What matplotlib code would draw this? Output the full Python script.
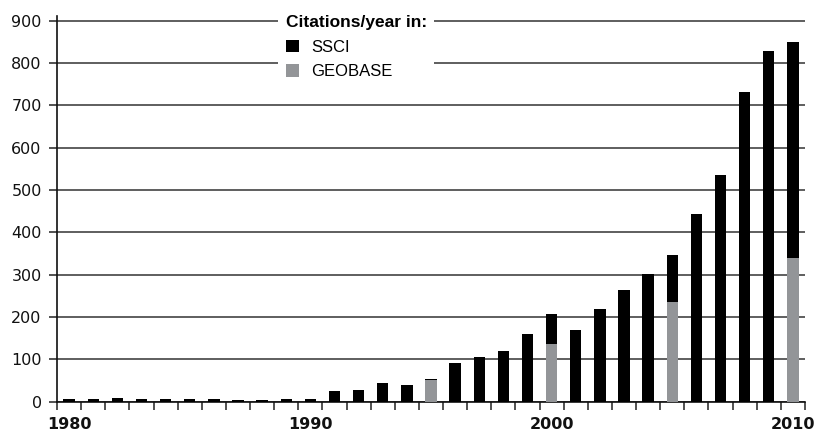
import matplotlib
matplotlib.use("Agg")
import matplotlib.pyplot as plt
import numpy as np

years = list(range(1980, 2011))
ssci = [6, 5, 8, 5, 5, 5, 5, 4, 4, 5, 5, 25, 28, 43, 40, 53, 92, 105, 120, 160,
        207, 170, 219, 264, 302, 345, 444, 535, 731, 829, 850]
geobase_years = [1995, 2000, 2005, 2010]
geobase = [51, 136, 236, 338]
yticks = [0, 100, 200, 300, 400, 500, 600, 700, 800, 900]
xlabels = [1980, 1990, 2000, 2010]

plt.rcParams['font.family'] = ['DejaVu Sans']

fig = plt.figure(figsize=(8.14, 4.34), dpi=100)
ax = fig.add_axes([57/814, 1 - 401.5/434, (805-57)/814, (401.5-16.3)/434])

ax.bar(years, ssci, width=0.47, color='black', zorder=3)
ax.bar(geobase_years, geobase, width=0.47, color='#939598', zorder=4)

ax.set_xlim(1979.5, 2010.5)
ax.set_ylim(0, 910)

ax.set_yticks(yticks)
ax.set_yticklabels([str(v) for v in yticks], fontsize=11.5, color='#111111')
ax.tick_params(axis='y', direction='out', length=6, width=1.1, color='#222222', pad=5)
ax.yaxis.grid(True, color='#333333', linewidth=1.1, zorder=1)
ax.set_axisbelow(True)

ax.set_xticks(xlabels)
ax.set_xticklabels([str(v) for v in xlabels], fontsize=11.5, fontweight='bold', color='#111111')
ax.set_xticks(np.arange(1979.5, 2011.0, 1.0), minor=True)
ax.tick_params(axis='x', which='major', length=0, pad=11)
ax.tick_params(axis='x', which='minor', direction='out', length=6, width=1.1, color='#222222')

for s in ['top', 'right']:
    ax.spines[s].set_visible(False)
ax.spines['left'].set_linewidth(1.2)
ax.spines['bottom'].set_linewidth(1.2)
ax.spines['left'].set_color('#111111')
ax.spines['bottom'].set_color('#111111')

leg = ax.legend(['SSCI', 'GEOBASE'], title='Citations/year in:',
                loc='upper left', bbox_to_anchor=(278/814, 1 - 8/434),
                bbox_transform=fig.transFigure, frameon=True, fancybox=False,
                facecolor='white', edgecolor='none', framealpha=1,
                handlelength=0.8, handleheight=0.8, handletextpad=0.75,
                labelspacing=0.55, borderpad=0.45, borderaxespad=0,
                alignment='left',
                prop={'family': 'Liberation Sans', 'size': 12},
                title_fontproperties={'family': 'Liberation Sans', 'size': 12.5, 'weight': 'bold'})
leg.set_zorder(10)
leg.set_clip_on(False)

fig.savefig('out.png', dpi=100, facecolor='white')
